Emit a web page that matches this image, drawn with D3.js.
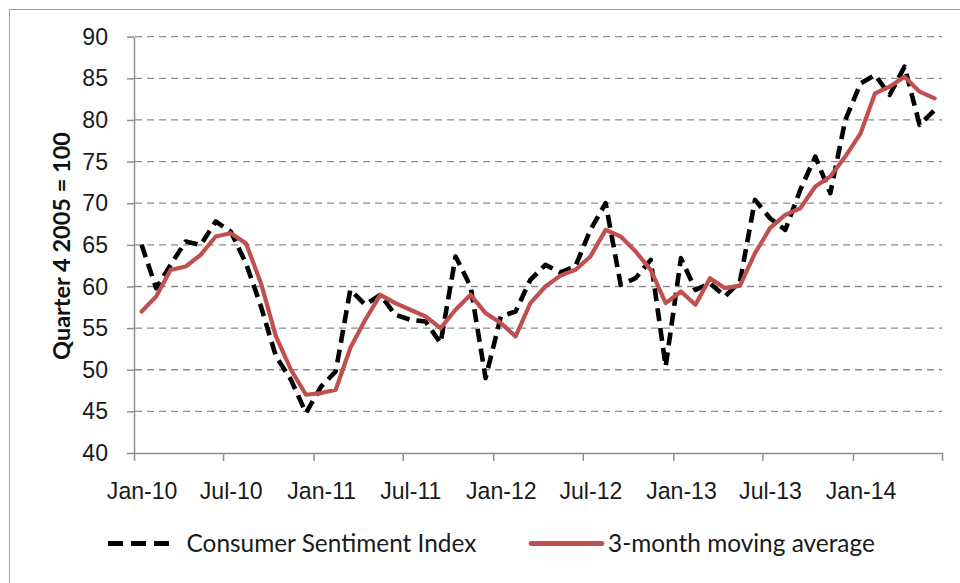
<!DOCTYPE html>
<html lang="en">
<head>
<meta charset="UTF-8">
<title>Consumer Sentiment Index</title>
<script src="https://d3js.org/d3.v7.min.js"></script>
<style>
    body { margin: 0; background: white; }
    svg { display: block; font-family: Lato, "Open Sans", sans-serif; }
    .axis path, .axis line { stroke: #8f8f8f; stroke-width: 1.5; }
    .axis text { fill: #1a1a1a; }
    .grid line { stroke: #8c8c8c; stroke-width: 1.3; stroke-dasharray: 7,5; }
</style>
</head>
<body>
<script>
// monthly, Jan-10 .. Jun-14
const startYear = 2010, startMonth = 0;
const sentiment = [
    65.0, 59.8, 62.6, 65.4, 65.0, 67.8, 66.6, 62.8, 57.6, 51.6, 48.8, 44.8,
    48.0, 49.8, 59.6, 57.8, 59.0, 56.6, 56.0, 55.8, 53.2, 63.6, 60.0, 49.0,
    56.4, 57.0, 60.8, 62.6, 61.7, 62.4, 66.8, 70.0, 60.2, 61.0, 63.2, 50.4,
    63.4, 59.6, 60.4, 58.8, 60.6, 70.4, 68.2, 66.8, 71.6, 75.6, 71.2, 80.0,
    84.4, 85.4, 83.0, 86.4, 79.4, 81.2
];
const movingAvg = [
    57.0, 58.8, 62.0, 62.4, 63.8, 66.0, 66.4, 65.2, 60.4, 54.0, 50.0, 47.0,
    47.2, 47.6, 52.6, 56.0, 59.0, 58.0, 57.2, 56.4, 55.0, 57.2, 59.0, 56.8,
    55.6, 54.0, 58.0, 60.0, 61.3, 62.0, 63.6, 66.8, 66.0, 64.2, 62.0, 58.0,
    59.4, 57.8, 61.0, 59.8, 60.1, 64.0, 67.0, 68.6, 69.4, 72.0, 73.2, 75.6,
    78.4, 83.2, 84.0, 85.2, 83.4, 82.6
];
const yTicks = [40, 45, 50, 55, 60, 65, 70, 75, 80, 85, 90];
const seriesNames = ["Consumer Sentiment Index", "3-month moving average"];
const yTitle = "Quarter 4 2005 = 100";

const width = 960, height = 583;
const plotLeft = 134, plotRight = 942, plotTop = 36.7, plotBottom = 453;

const months = sentiment.map((d, i) => new Date(startYear, startMonth + i, 1));
const endDate = new Date(startYear, startMonth + sentiment.length, 1);

const svg = d3.select("body").append("svg")
    .attr("width", width)
    .attr("height", height);

// chart border
svg.append("rect")
    .attr("x", 9.5).attr("y", 9.5)
    .attr("width", width + 20).attr("height", height + 20)
    .attr("fill", "none").attr("stroke", "#a0a0a0").attr("stroke-width", 1);

const x = d3.scaleTime().domain([months[0], endDate]).range([plotLeft, plotRight]);
const y = d3.scaleLinear().domain([40, 90]).range([plotBottom, plotTop]);

// centre of a month slot
const xMid = d => (x(d) + x(d3.timeMonth.offset(d, 1))) / 2;

// text size helper: pick font-size so a sample string gets a given width
function fitSize(sample, target, weight) {
    const t = svg.append("text").attr("font-size", 20).attr("font-weight", weight || "normal").text(sample);
    const w = t.node().getComputedTextLength();
    t.remove();
    return 20 * target / w;
}
const tickFont = fitSize("Jan-10", 69);
const legendFont = fitSize(seriesNames[0], 290);
const titleFont = fitSize(yTitle, 228, "bold");

// gridlines
svg.append("g").attr("class", "grid")
    .selectAll("line")
    .data(yTicks.filter(d => d > 40))
    .enter().append("line")
    .attr("x1", plotLeft + 1).attr("x2", plotRight)
    .attr("y1", d => y(d)).attr("y2", d => y(d));

// y axis
const yAxis = svg.append("g").attr("class", "axis")
    .attr("transform", `translate(${plotLeft},0)`)
    .call(d3.axisLeft(y).tickValues(yTicks).tickSize(7).tickSizeOuter(0).tickPadding(19));
yAxis.selectAll("text").attr("font-size", tickFont).attr("dy", "0.33em");

// x axis, tick marks on month boundaries, labels centred in the month
const xTickVals = d3.timeMonth.every(6).range(months[0], d3.timeDay.offset(endDate, 1));
const xAxis = svg.append("g").attr("class", "axis")
    .attr("transform", `translate(0,${plotBottom})`)
    .call(d3.axisBottom(x).tickValues(xTickVals).tickSize(8).tickSizeOuter(0)
        .tickFormat(d3.timeFormat("%b-%y")).tickPadding(22));
xAxis.selectAll("text")
    .attr("font-size", tickFont)
    .attr("x", d => xMid(d) - x(d))
    .attr("display", d => +d >= +endDate ? "none" : null);

// y axis title
svg.append("text")
    .attr("transform", `translate(62,246) rotate(-90)`)
    .attr("text-anchor", "middle")
    .attr("dy", "0.35em")
    .attr("font-weight", "bold")
    .attr("font-size", titleFont)
    .attr("fill", "#111")
    .text(yTitle);

// lines
const line = d3.line()
    .x((d, i) => xMid(months[i]))
    .y(d => y(d));

svg.append("path")
    .datum(sentiment)
    .attr("fill", "none")
    .attr("stroke", "#000")
    .attr("stroke-width", 4.6)
    .attr("stroke-dasharray", "13,7")
    .attr("stroke-linejoin", "round")
    .attr("d", line);

svg.append("path")
    .datum(movingAvg)
    .attr("fill", "none")
    .attr("stroke", "#c0504d")
    .attr("stroke-width", 4.2)
    .attr("stroke-linejoin", "round")
    .attr("stroke-linecap", "round")
    .attr("d", line);

// legend
const legendY = 543.5;
const legend = [
    {name: seriesNames[0], x1: 108, x2: 170, tx: 186.5, color: "#000", dash: "15,8", cap: "butt"},
    {name: seriesNames[1], x1: 531, x2: 602, tx: 608, color: "#c0504d", dash: null, cap: "round"}
];
const lg = svg.append("g").selectAll("g").data(legend).enter().append("g");
lg.append("line")
    .attr("x1", d => d.x1).attr("x2", d => d.x2)
    .attr("y1", legendY).attr("y2", legendY)
    .attr("stroke", d => d.color)
    .attr("stroke-width", 4.8)
    .attr("stroke-linecap", d => d.cap)
    .attr("stroke-dasharray", d => d.dash);
lg.append("text")
    .attr("x", d => d.tx).attr("y", legendY)
    .attr("dy", "0.35em")
    .attr("font-size", legendFont)
    .attr("fill", "#1a1a1a")
    .text(d => d.name);
</script>
</body>
</html>
